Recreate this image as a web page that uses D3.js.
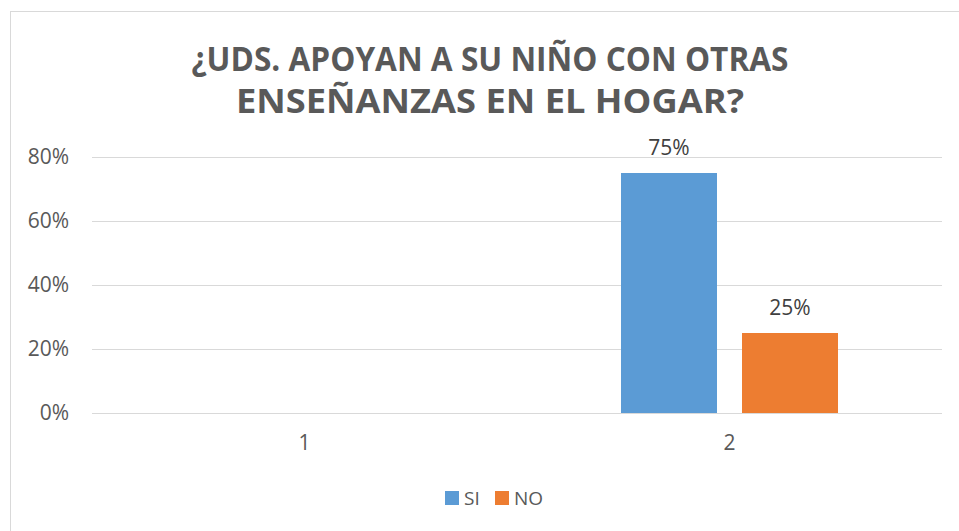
<!DOCTYPE html>
<html>
<head>
<meta charset="utf-8">
<script src="https://cdn.jsdelivr.net/npm/d3@7/dist/d3.min.js"></script>
<style>
  html, body { margin: 0; padding: 0; background: #fff; }
  svg { display: block; }
  text { font-family: "Open Sans", "Liberation Sans", sans-serif; }
</style>
</head>
<body>
<svg id="chart" width="959" height="531"></svg>
<script>
const titleLines = ["¿UDS. APOYAN A SU NIÑO CON OTRAS", "ENSEÑANZAS EN EL HOGAR?"];
const categories = ["1", "2"];
const seriesNames = ["SI", "NO"];
const seriesColors = ["#5B9BD5", "#ED7D31"];
const valuesSI = [null, 0.75];
const valuesNO = [null, 0.25];
const yTicks = [0, 0.2, 0.4, 0.6, 0.8];

const svg = d3.select("#chart");
const W = 959, H = 531;
const plot = { left: 92, right: 942, top: 157, bottom: 413 };

// outer border
svg.append("rect")
  .attr("x", 10.5).attr("y", 11.5)
  .attr("width", W).attr("height", H)
  .attr("fill", "#fff").attr("stroke", "#D9D9D9").attr("stroke-width", 1);

// title
const titleWidths = [597, 508];
titleLines.forEach((t, i) => {
  svg.append("text")
    .attr("x", 490).attr("y", 71 + i * 42)
    .attr("text-anchor", "middle")
    .attr("font-family", "'Liberation Sans Narrow', 'Open Sans', sans-serif")
    .attr("font-size", 34).attr("font-weight", "bold")
    .attr("fill", "#595959")
    .attr("textLength", titleWidths[i])
    .attr("lengthAdjust", "spacingAndGlyphs")
    .text(t);
});

const y = d3.scaleLinear().domain([0, 0.8]).range([plot.bottom, plot.top]);
const x0 = d3.scaleBand().domain(categories).range([plot.left, plot.right]).padding(0);
const bw = x0.bandwidth();
const x1 = d3.scaleBand().domain(seriesNames)
  .range([bw * 0.2447, bw * 0.7553]).paddingInner(0.2066).paddingOuter(0);

// gridlines
svg.append("g")
  .selectAll("line").data(yTicks).join("line")
  .attr("x1", plot.left).attr("x2", plot.right)
  .attr("y1", d => Math.round(y(d)) + 0.5).attr("y2", d => Math.round(y(d)) + 0.5)
  .attr("stroke", "#D9D9D9").attr("stroke-width", 1);

// y axis labels
const yAxis = d3.axisLeft(y).tickValues(yTicks).tickFormat(d3.format(".0%")).tickSize(0).tickPadding(0);
const gy = svg.append("g").attr("transform", `translate(69,0)`).call(yAxis);
gy.select(".domain").remove();
gy.selectAll("text").attr("font-size", 21).attr("fill", "#595959")
  .attr("font-family", "'Open Sans', sans-serif");

// x axis labels
const xAxis = d3.axisBottom(x0).tickSize(0).tickPadding(0);
const gx = svg.append("g").attr("transform", `translate(0,${plot.bottom + 22})`).call(xAxis);
gx.select(".domain").remove();
gx.selectAll("text").attr("font-size", 21).attr("fill", "#595959")
  .attr("font-family", "'Open Sans', sans-serif");

// bars
const rows = [];
categories.forEach((c, i) => {
  rows.push({ cat: c, s: "SI", v: valuesSI[i], color: seriesColors[0] });
  rows.push({ cat: c, s: "NO", v: valuesNO[i], color: seriesColors[1] });
});
const valid = rows.filter(d => d.v != null);
svg.append("g").selectAll("rect").data(valid).join("rect")
  .attr("x", d => x0(d.cat) + x1(d.s))
  .attr("width", x1.bandwidth())
  .attr("y", d => y(d.v))
  .attr("height", d => y(0) - y(d.v))
  .attr("fill", d => d.color);

// data labels
svg.append("g").selectAll("text").data(valid).join("text")
  .attr("x", d => x0(d.cat) + x1(d.s) + x1.bandwidth() / 2)
  .attr("y", d => y(d.v) - 18)
  .attr("text-anchor", "middle")
  .attr("font-size", 21).attr("fill", "#404040")
  .text(d => d3.format(".0%")(d.v));

// legend
const legend = svg.append("g");
const legendItems = [{ name: "SI", x: 445 }, { name: "NO", x: 495 }];
legendItems.forEach((it, i) => {
  legend.append("rect").attr("x", it.x).attr("y", 491).attr("width", 14).attr("height", 14)
    .attr("fill", seriesColors[i]);
  legend.append("text").attr("x", it.x + 19).attr("y", 505)
    .attr("font-size", 19).attr("fill", "#595959").text(it.name);
});
</script>
</body>
</html>
